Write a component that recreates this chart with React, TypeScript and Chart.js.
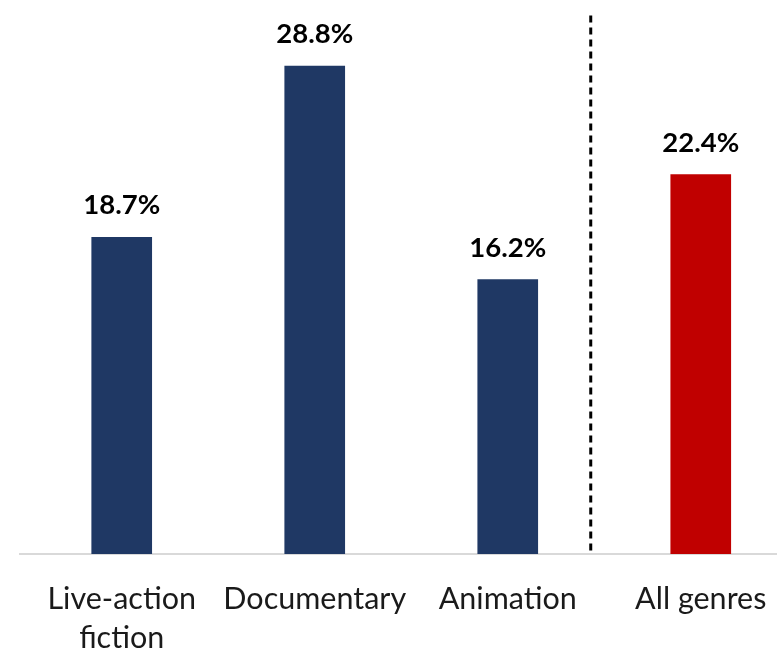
import React, { useEffect, useRef } from "react";
import { Chart, registerables } from "chart.js";

Chart.register(...registerables);

const categories = ["Live-action fiction", "Documentary", "Animation", "All genres"];
const tickLines = [["Live-action", "fiction"], ["Documentary"], ["Animation"], ["All genres"]];
const values = [18.7, 28.8, 16.2, 22.4];
const barColors = ["#1F3864", "#1F3864", "#1F3864", "#C00000"];
const dividerAt = 2.43;
const dividerTop = 31.8;

const FONT = "Lato, 'Open Sans', sans-serif";

export default function App() {
  const ref = useRef<HTMLCanvasElement | null>(null);

  useEffect(() => {
    document.body.style.margin = "0";
    document.body.style.overflow = "hidden";
    const canvas = ref.current;
    if (!canvas) return;

    const labelPlugin = {
      id: "labelsAndDivider",
      afterDatasetsDraw(chart: any) {
        const { ctx } = chart;
        const xs = chart.scales.x;
        const ys = chart.scales.y;
        const dx = xs.getPixelForValue(dividerAt);
        ctx.save();
        ctx.strokeStyle = "#000000";
        ctx.lineWidth = 3;
        ctx.setLineDash([7, 5]);
        ctx.beginPath();
        ctx.moveTo(dx, ys.getPixelForValue(dividerTop));
        ctx.lineTo(dx, ys.getPixelForValue(0) - 1);
        ctx.stroke();
        ctx.restore();
        const meta = chart.getDatasetMeta(0);
        ctx.save();
        ctx.fillStyle = "#000000";
        ctx.font = `bold 27.5px ${FONT}`;
        ctx.textAlign = "center";
        ctx.textBaseline = "alphabetic";
        meta.data.forEach((el: any, i: number) => {
          ctx.fillText(`${values[i].toFixed(1)}%`, el.x, el.y - 23);
        });
        ctx.restore();
      },
    };

    const chart = new Chart(canvas, {
      type: "bar",
      data: {
        datasets: [
          {
            label: "Share",
            data: values.map((v, i) => ({ x: i, y: v })),
            backgroundColor: barColors,
            borderWidth: 0,
            barThickness: 60,
          },
        ],
      },
      options: {
        animation: false,
        responsive: true,
        maintainAspectRatio: false,
        layout: { padding: { left: 20, right: 0, top: 12, bottom: 0 } },
        plugins: { legend: { display: false }, tooltip: { enabled: false } },
        scales: {
          x: {
            type: "linear",
            offset: false,
            min: -0.527,
            max: 3.395,
            grid: { display: false, drawTicks: false, offset: false },
            border: { display: true, color: "#d9d9d9", width: 2 },
            afterBuildTicks: (axis: any) => {
              axis.ticks = categories.map((_, i) => ({ value: i }));
            },
            afterFit: (scale: any) => {
              scale.height = 97;
              scale.paddingLeft = 0;
              scale.paddingRight = 0;
            },
            ticks: {
              autoSkip: false,
              maxRotation: 0,
              minRotation: 0,
              padding: 25,
              color: "#1a1a1a",
              font: { family: FONT, size: 30.5, lineHeight: 1.29 },
              callback: (value: any) => tickLines[Math.round(Number(value))] ?? "",
            },
          },
          y: {
            display: false,
            min: 0,
            max: 32,
          },
        },
      },
      plugins: [labelPlugin],
    });
    return () => chart.destroy();
  }, []);

  return (
    <div style={{ width: 777, height: 651, position: "relative" }}>
      <canvas ref={ref} />
    </div>
  );
}
